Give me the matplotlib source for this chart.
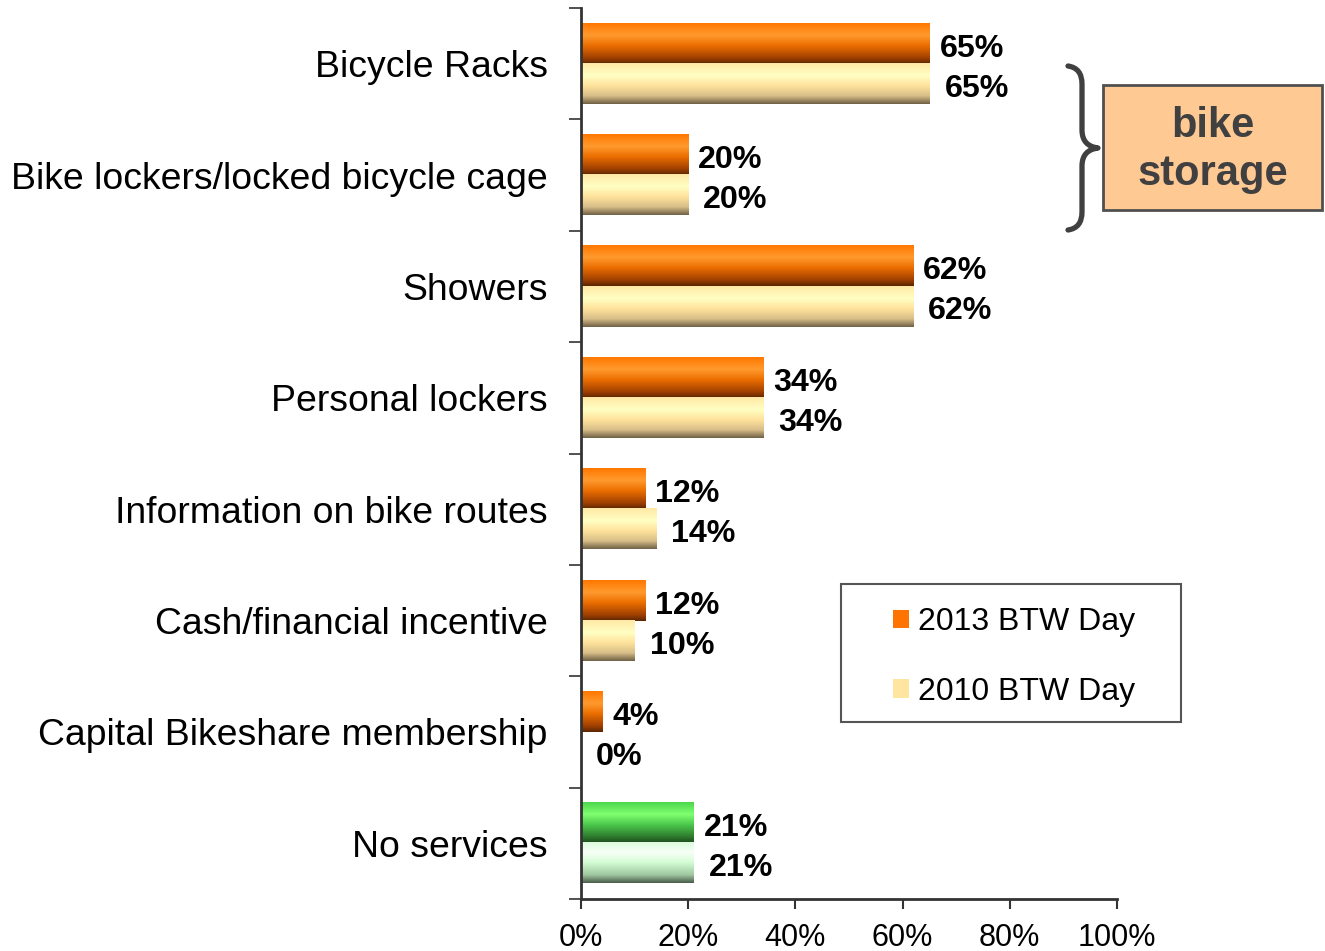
import numpy as np
import matplotlib
matplotlib.use("Agg")
import matplotlib.pyplot as plt
from matplotlib.colors import LinearSegmentedColormap
from matplotlib.patches import Patch, Rectangle, PathPatch
from matplotlib.path import Path

plt.rcParams['font.family'] = ['Liberation Sans', 'DejaVu Sans']

categories = ["Bicycle Racks", "Bike lockers/locked bicycle cage", "Showers",
              "Personal lockers", "Information on bike routes",
              "Cash/financial incentive", "Capital Bikeshare membership",
              "No services"]
values_2013 = [65, 20, 62, 34, 12, 12, 4, 21]
values_2010 = [65, 20, 62, 34, 14, 10, 0, 21]
series_names = ["2013 BTW Day", "2010 BTW Day"]
xticks = [0, 20, 40, 60, 80, 100]
xtick_labels = ["0%", "20%", "40%", "60%", "80%", "100%"]

W, H = 1325, 951
fig = plt.figure(figsize=(W / 100, H / 100), dpi=100)

def fx(px):
    return px / W

def fy(py):
    return 1 - py / H

ax = fig.add_axes([fx(581), fy(899), fx(1117) - fx(581), fy(8) - fy(899)])

def cmap(stops):
    return LinearSegmentedColormap.from_list("g", stops)

cm_orange = cmap([(0, '#FF7800'), (0.3, '#FF9A2E'), (0.55, '#EC6E00'),
                  (0.85, '#A04000'), (1.0, '#5A2400')])
cm_cream = cmap([(0, '#FFE8A4'), (0.3, '#FFFFC4'), (0.55, '#FFE39C'),
                 (0.8, '#D8BE88'), (1.0, '#6E6045')])
cm_green = cmap([(0, '#4CD64C'), (0.3, '#80FF70'), (0.55, '#4CC84C'),
                 (0.85, '#2E7A2E'), (1.0, '#1E4A1E')])
cm_lgreen = cmap([(0, '#DCFCDC'), (0.25, '#F8FFF8'), (0.5, '#D4FCD4'),
                  (0.8, '#A0C8A0'), (1.0, '#4A5A4A')])

grad = np.linspace(0, 1, 256).reshape(-1, 1)
bh = 0.36

for i, (v13, v10) in enumerate(zip(values_2013, values_2010)):
    last = (i == len(categories) - 1)
    c13 = cm_green if last else cm_orange
    c10 = cm_lgreen if last else cm_cream
    if v13 > 0:
        ax.imshow(grad, cmap=c13, aspect='auto', interpolation='bilinear',
                  extent=(0, v13, i, i - bh), zorder=2)
    if v10 > 0:
        ax.imshow(grad, cmap=c10, aspect='auto', interpolation='bilinear',
                  extent=(0, v10, i + bh, i), zorder=2)
    ax.annotate(f"{v13}%", xy=(v13, i - bh / 2), xytext=(10, -5),
                textcoords='offset pixels', va='center', ha='left',
                fontsize=23.2, fontweight='bold', color='black')
    ax.annotate(f"{v10}%", xy=(v10, i + bh / 2), xytext=(15, -5),
                textcoords='offset pixels', va='center', ha='left',
                fontsize=23.2, fontweight='bold', color='black')

ax.set_xlim(0, 100)
ax.set_ylim(len(categories) - 0.5, -0.5)

ax.set_yticks(range(len(categories)))
ax.set_yticklabels(categories, fontsize=26.9)
ax.tick_params(axis='y', which='major', length=0, pad=24)
ax.set_yticks(np.arange(-0.5, len(categories), 1.0), minor=True)
ax.tick_params(axis='y', which='minor', length=9, width=1.2, color='#333333',
               direction='out')

ax.set_xticks(xticks)
ax.set_xticklabels(xtick_labels, fontsize=22)
ax.tick_params(axis='x', length=7, width=1.5, direction='out', pad=10,
               color='#333333')

for s in ['top', 'right']:
    ax.spines[s].set_visible(False)
for s in ['left', 'bottom']:
    ax.spines[s].set_linewidth(2)
    ax.spines[s].set_color('#333333')

# Legend frame
frame = Rectangle((fx(841), fy(722)), fx(1181) - fx(841), fy(584) - fy(722),
                  transform=fig.transFigure, facecolor='white',
                  edgecolor='#555555', linewidth=1.5, zorder=3)
fig.add_artist(frame)
handles = [Patch(facecolor='#FF7400', edgecolor='none'),
           Patch(facecolor='#FFE6A0', edgecolor='none')]
leg = fig.legend(handles, series_names, loc='upper left',
                 bbox_to_anchor=(fx(893), fy(607)),
                 fontsize=23, frameon=False,
                 handlelength=0.5, handleheight=0.5, handletextpad=0.28,
                 labelspacing=1.25, borderpad=0, borderaxespad=0)
leg.set_zorder(4)

# bike storage box
box = Rectangle((fx(1103), fy(210)), fx(1322) - fx(1103), fy(85) - fy(210),
                transform=fig.transFigure,
                facecolor='#FFC994', edgecolor='#505050', linewidth=2)
fig.add_artist(box)
fig.text(fx(1213), fy(150), "bike\nstorage", ha='center', va='center',
         fontsize=30, fontweight='bold', color='#404040', linespacing=1.25)

# brace
pts_px = [
    (1068, 66), (1082, 68), (1082, 84),
    (1082, 130),
    (1082, 146), (1098, 148),
    (1082, 150), (1082, 166),
    (1082, 212),
    (1082, 228), (1068, 230),
]
codes = [Path.MOVETO, Path.CURVE3, Path.CURVE3,
         Path.LINETO,
         Path.CURVE3, Path.CURVE3,
         Path.CURVE3, Path.CURVE3,
         Path.LINETO,
         Path.CURVE3, Path.CURVE3]
verts = [(fx(x), fy(y)) for x, y in pts_px]
brace = PathPatch(Path(verts, codes), transform=fig.transFigure,
                  facecolor='none', edgecolor='#404040', linewidth=3.8,
                  capstyle='round', joinstyle='round')
fig.add_artist(brace)

fig.savefig("out.png", dpi=100)
